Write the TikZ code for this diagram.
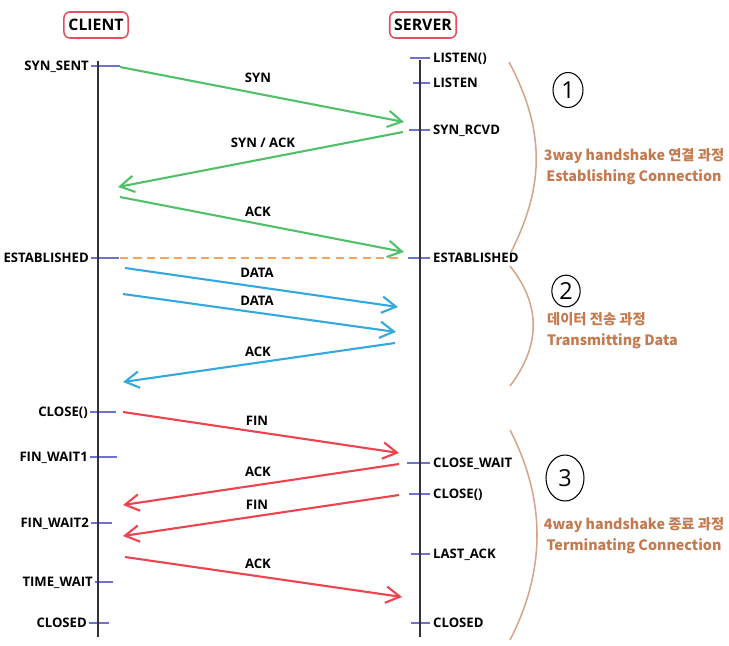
\documentclass[tikz,border=0pt]{standalone}
\usepackage{fontspec}
\setmainfont{Open Sans}
\newfontfamily\krfont{Noto Sans CJK KR}
\usetikzlibrary{arrows.meta,shapes.geometric}
\definecolor{hostred}{HTML}{E2505C}
\definecolor{syngreen}{HTML}{52C06A}
\definecolor{datablue}{HTML}{33A9E0}
\definecolor{finred}{HTML}{EE4450}
\definecolor{estorange}{HTML}{F5A55A}
\definecolor{tickblue}{HTML}{7070D0}
\definecolor{bracetan}{HTML}{D4A58C}
\definecolor{phasebrown}{HTML}{C47A4E}
\tikzset{
	host/.style={draw=hostred, line width=1.3pt, rounded corners=5pt, minimum height=0.78cm, inner xsep=3.8pt,
			font=\bfseries\fontsize{13.5}{14}\selectfont},
	lifeline/.style={draw=black!80, line width=1.5pt},
	tickmark/.style={draw=tickblue, line width=1.5pt},
	state/.style={font=\bfseries\fontsize{11.2}{12}\selectfont, inner sep=0pt, text height=8pt, text depth=0pt},
	msg/.style={draw=#1, line width=1.8pt, -{Straight Barb[length=12pt,width=14pt]}},
	msglabel/.style={font=\bfseries\fontsize{11.2}{12}\selectfont, inner sep=0pt},
	estline/.style={draw=estorange, line width=1.6pt, dash pattern=on 7pt off 4.5pt},
	phase/.style={text=phasebrown, font=\krfont\bfseries\fontsize{12.2}{18}\selectfont},
	brace/.style={draw=bracetan, line width=1.3pt},
	stepno/.style={draw, ellipse, line width=0.9pt, inner sep=0pt, font=\fontsize{20}{20}\selectfont}
}
\begin{document}
\begin{tikzpicture}[x=0.03cm, y=-0.03cm]
	\useasboundingbox (0,0) rectangle (729,646);

	\node[host] (client) at (96,25) {CLIENT};
	\node[host] (server) at (423,25) {SERVER};

	\foreach \n/\x/\y/\w/\t in {synsent/89/66/29/SYN\_SENT, established/89/258/28/ESTABLISHED, close/88/412/26/CLOSE(),
			finwait1/88/457/27/FIN\_WAIT1, finwait2/89/523/21/FIN\_WAIT2, timewait/93/582/18/TIME\_WAIT, closed/87/623/20/CLOSED}{
		\node[state, anchor=east] (c-\n) at (\x,\y) {\t};
		\draw[tickmark] (c-\n.east) ++(2,0) -- ++(\w,0);
	}
	\foreach \n/\y/\w/\t in {listenfn/58/20/LISTEN(), listen/83/17/LISTEN, synrcvd/130/21/SYN\_RCVD, established/258/22/ESTABLISHED,
			closewait/463/23/CLOSE\_WAIT, closefn/494/21/CLOSE(), lastack/554/19/LAST\_ACK, closed/623/19/CLOSED}{
		\node[state, anchor=west] (s-\n) at (433,\y) {\t};
		\draw[tickmark] (s-\n.west) ++(-3,0) -- ++(-\w,0);
	}

	\coordinate (c-top) at (98,61);
	\coordinate (c-bot) at (98,637);
	\coordinate (s-top) at (420,60);
	\coordinate (s-bot) at (420,637);
	\draw[lifeline] (c-top) -- (c-bot);
	\draw[lifeline] (s-top) -- (s-bot);

	\coordinate (syn-a) at (120,67);     \coordinate (syn-b) at (404,122);
	\coordinate (synack-a) at (403,132); \coordinate (synack-b) at (118,187);
	\coordinate (ack1-a) at (120,197);   \coordinate (ack1-b) at (404,252);
	\coordinate (est-a) at (120,258);    \coordinate (est-b) at (400,258);
	\coordinate (data1-a) at (125,268);  \coordinate (data1-b) at (398,307);
	\coordinate (data2-a) at (123,294);  \coordinate (data2-b) at (396,332);
	\coordinate (ack2-a) at (395,343);   \coordinate (ack2-b) at (123,382);
	\coordinate (fin1-a) at (123,412);   \coordinate (fin1-b) at (399,453);
	\coordinate (ack3-a) at (399,464);   \coordinate (ack3-b) at (123,505);
	\coordinate (fin2-a) at (399,495);   \coordinate (fin2-b) at (123,536);
	\coordinate (ack4-a) at (125,557);   \coordinate (ack4-b) at (402,597);

	\draw[estline] (est-a) -- (est-b);
	\foreach \m/\c/\lx/\ly/\t in {syn/syngreen/258/78/SYN, synack/syngreen/263/143/{SYN / ACK}, ack1/syngreen/258/212/ACK,
			data1/datablue/257/273/DATA, data2/datablue/257/301/DATA, ack2/datablue/258/352/ACK,
			fin1/finred/257/421/FIN, ack3/finred/258/472/ACK, fin2/finred/257/505/FIN, ack4/finred/258/564/ACK}{
		\draw[msg=\c] (\m-a) -- (\m-b);
		\node[msglabel] (\m-l) at (\lx,\ly) {\t};
	}

	\draw[brace] (509,62) .. controls (545,130) and (545,185) .. (511,252);
	\draw[brace] (510,266) .. controls (541,305) and (541,345) .. (510,386);
	\draw[brace] (510,430) .. controls (546,500) and (546,570) .. (510,640);

	\node[stepno, minimum width=0.9cm, minimum height=1.05cm] (n1) at (568,90) {1};
	\node[stepno, minimum width=0.85cm, minimum height=0.95cm] (n2) at (566,291) {2};
	\node[stepno, minimum width=1.14cm, minimum height=1.38cm] (n3) at (565,478) {3};

	\node[phase, align=center] (p1) at (634,167) {3way handshake 연결 과정\\Establishing Connection};
	\node[phase, align=left, anchor=west] (p2) at (543,331) {데이터 전송 과정\\Transmitting Data};
	\node[phase, align=center] (p3) at (634,536) {4way handshake 종료 과정\\Terminating Connection};
\end{tikzpicture}
\end{document}
